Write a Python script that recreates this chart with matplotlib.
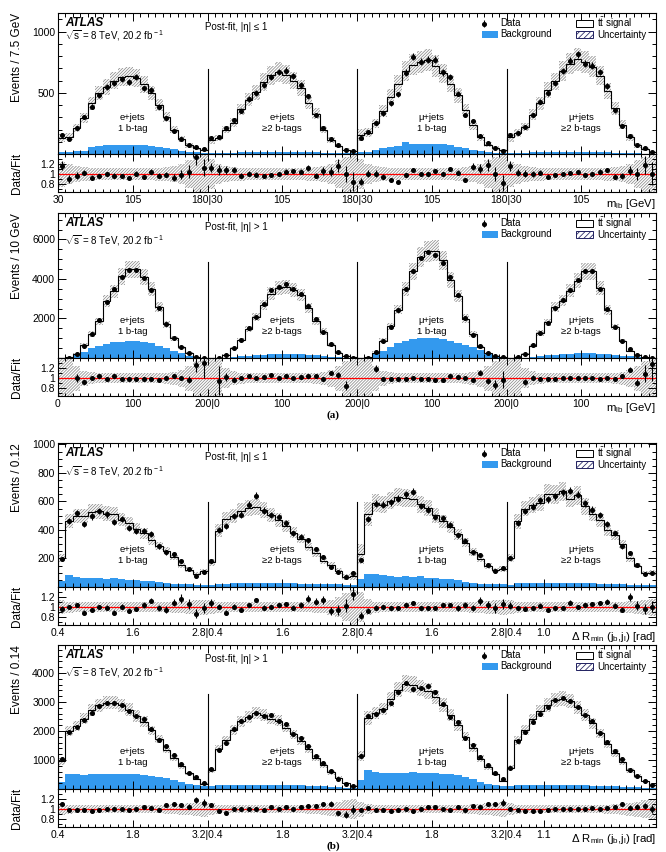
import numpy as np
import matplotlib
matplotlib.use("Agg")
import matplotlib.pyplot as plt
from matplotlib.ticker import FixedLocator, MultipleLocator, NullFormatter
from matplotlib.patches import Rectangle

plt.rcParams['font.family'] = ['Liberation Sans', 'DejaVu Sans']
plt.rcParams['mathtext.fontset'] = 'custom'
plt.rcParams['mathtext.rm'] = 'Liberation Sans'
plt.rcParams['mathtext.it'] = 'Liberation Sans:italic'
plt.rcParams['hatch.linewidth'] = 0.55

channel_labels = ['e+jets\n1 b-tag', 'e+jets\n≥2 b-tags', 'μ+jets\n1 b-tag', 'μ+jets\n≥2 b-tags']

# ---------------- panel (a) top : m_lb, |eta| <= 1 ----------------
fit_a1 = [130, 140, 215, 295, 415, 500, 545, 600, 630, 635, 620, 570, 500, 400, 300, 200, 120, 70, 45, 35,
          115, 130, 200, 255, 365, 445, 505, 590, 645, 670, 650, 600, 540, 420, 330, 200, 115, 65, 35, 25,
          155, 175, 250, 350, 470, 575, 680, 730, 755, 770, 720, 660, 575, 480, 360, 235, 135, 75, 47, 30,
          135, 170, 222, 320, 415, 525, 595, 680, 740, 775, 755, 715, 640, 515, 375, 240, 135, 70, 40, 20]
bkg_a1 = [20, 20, 22, 25, 60, 65, 70, 75, 75, 75, 72, 70, 62, 55, 45, 38, 28, 20, 15, 10,
          8, 10, 10, 12, 14, 18, 20, 20, 18, 18, 18, 17, 16, 15, 14, 12, 10, 8, 6, 5,
          14, 20, 33, 47, 60, 66, 101, 80, 82, 82, 82, 82, 74, 60, 47, 33, 25, 16, 11, 5,
          8, 10, 12, 14, 15, 16, 18, 18, 18, 18, 17, 16, 15, 14, 12, 10, 8, 6, 4, 3]
ratio_a1 = [1.17, 0.90, 0.97, 1.03, 0.93, 0.96, 1.00, 0.97, 0.97, 0.93, 1.01, 0.94, 1.05, 0.97, 0.99, 0.93, 0.99, 1.05, 1.35, 1.13,
            1.13, 1.08, 1.08, 1.08, 0.97, 1.01, 0.99, 0.96, 0.98, 1.00, 1.05, 1.06, 1.05, 1.12, 0.97, 1.06, 1.05, 1.17, 1.00, 0.85,
            0.85, 1.01, 1.01, 0.95, 0.88, 0.85, 0.98, 1.09, 1.00, 1.00, 1.07, 1.01, 1.10, 1.03, 0.88, 1.15, 1.11, 1.18, 1.00, 0.82,
            1.16, 1.03, 1.01, 1.00, 1.03, 0.95, 0.98, 1.00, 1.03, 1.05, 0.98, 1.01, 1.05, 1.08, 0.95, 0.96, 1.07, 1.00, 1.18, 1.01]
unc_a1 = [0.25, 0.2, 0.16, 0.14, 0.13, 0.12, 0.12, 0.12, 0.12, 0.12, 0.12, 0.12, 0.12, 0.13, 0.14, 0.16, 0.2, 0.28, 0.35, 0.4,
          0.3, 0.2, 0.16, 0.14, 0.13, 0.12, 0.12, 0.12, 0.12, 0.12, 0.12, 0.12, 0.12, 0.13, 0.14, 0.16, 0.2, 0.28, 0.35, 0.4,
          0.3, 0.2, 0.16, 0.14, 0.13, 0.12, 0.12, 0.12, 0.12, 0.12, 0.12, 0.12, 0.12, 0.13, 0.14, 0.16, 0.2, 0.28, 0.35, 0.4,
          0.25, 0.2, 0.16, 0.14, 0.13, 0.12, 0.12, 0.12, 0.12, 0.12, 0.12, 0.12, 0.12, 0.13, 0.14, 0.16, 0.2, 0.28, 0.35, 0.4]

# ---------------- panel (a) bottom : m_lb, |eta| > 1 ----------------
fit_a2 = [5, 30, 200, 650, 1220, 1860, 2880, 3370, 4130, 4480, 4480, 4080, 3480, 2590, 1700, 990, 540, 245, 55, 14,
          5, 12, 150, 500, 910, 1450, 2060, 2680, 3250, 3540, 3600, 3440, 3180, 2530, 1880, 1330, 650, 270, 110, 40,
          5, 45, 270, 885, 1600, 2450, 3510, 4380, 5100, 5400, 5430, 4940, 3960, 3130, 1990, 1210, 550, 250, 115, 35,
          5, 70, 215, 630, 1260, 1810, 2560, 2910, 3410, 3910, 4380, 4380, 3530, 2440, 1570, 845, 375, 165, 35, 10]
bkg_a2 = [0, 40, 170, 320, 490, 610, 710, 790, 830, 880, 880, 830, 740, 625, 505, 370, 235, 120, 50, 15,
          0, 5, 20, 50, 80, 110, 140, 165, 185, 195, 200, 195, 180, 160, 130, 100, 65, 35, 15, 5,
          0, 20, 236, 371, 574, 743, 878, 945, 996, 1030, 996, 945, 878, 776, 658, 540, 405, 236, 110, 35,
          0, 5, 25, 60, 100, 140, 170, 195, 215, 230, 236, 230, 215, 190, 160, 120, 80, 45, 20, 8]
ratio_a2 = [np.nan, 0.5, 1.00, 0.93, 1.00, 1.04, 0.99, 1.04, 0.99, 0.99, 0.99, 0.99, 0.99, 0.97, 1.00, 1.04, 1.00, 0.97, 1.27, 1.30,
            np.nan, 0.95, 1.02, 0.97, 1.00, 1.04, 1.00, 1.02, 1.06, 1.01, 1.04, 1.01, 1.02, 1.04, 1.04, 0.99, 1.10, 1.06, 0.85, 0.5,
            np.nan, 0.5, 1.19, 0.99, 0.99, 0.99, 0.99, 1.01, 0.99, 0.99, 0.96, 0.97, 1.04, 1.02, 1.01, 0.96, 1.11, 0.94, 0.87, 0.97,
            np.nan, 0.5, 0.92, 1.01, 0.99, 0.99, 0.99, 1.01, 1.01, 1.01, 1.01, 1.01, 0.99, 1.01, 0.99, 1.04, 1.17, 0.91, 1.09, 1.29]
unc_a2 = [0.5, 0.4, 0.25, 0.15, 0.12, 0.1, 0.1, 0.1, 0.1, 0.1, 0.1, 0.1, 0.1, 0.1, 0.11, 0.13, 0.17, 0.25, 0.35, 0.5,
          0.5, 0.4, 0.2, 0.14, 0.11, 0.1, 0.1, 0.1, 0.1, 0.1, 0.1, 0.1, 0.1, 0.1, 0.11, 0.13, 0.17, 0.25, 0.35, 0.5,
          0.5, 0.4, 0.25, 0.15, 0.12, 0.1, 0.1, 0.1, 0.1, 0.1, 0.1, 0.1, 0.1, 0.1, 0.11, 0.13, 0.17, 0.25, 0.35, 0.5,
          0.5, 0.4, 0.2, 0.14, 0.11, 0.1, 0.1, 0.1, 0.1, 0.1, 0.1, 0.1, 0.1, 0.1, 0.11, 0.13, 0.17, 0.25, 0.35, 0.5]

# ---------------- panel (b) top : dRmin, |eta| <= 1 ----------------
fit_b1 = [203, 462, 498, 500, 527, 532, 514, 510, 472, 446, 410, 376, 330, 290, 256, 210, 155, 122, 92, 110,
          172, 396, 480, 495, 535, 555, 562, 540, 505, 470, 425, 380, 340, 280, 240, 185, 155, 112, 70, 80,
          230, 512, 590, 578, 605, 632, 625, 620, 580, 553, 502, 462, 418, 370, 312, 248, 199, 149, 116, 127,
          200, 460, 550, 575, 590, 655, 650, 670, 620, 642, 565, 512, 468, 400, 365, 300, 200, 150, 95, 100]
bkg_b1 = [42, 82, 70, 65, 61, 63, 58, 61, 56, 51, 47, 44, 40, 35, 30, 23, 21, 19, 16, 14,
          12, 22, 24, 26, 26, 27, 27, 27, 26, 26, 25, 25, 24, 24, 23, 22, 20, 18, 16, 14,
          58, 94, 89, 82, 80, 70, 77, 70, 75, 65, 65, 58, 54, 47, 35, 28, 23, 23, 19, 19,
          15, 25, 27, 28, 28, 28, 28, 28, 27, 27, 26, 25, 24, 23, 21, 19, 17, 15, 13, 12]
ratio_b1 = [0.96, 1.00, 1.04, 0.89, 0.94, 1.00, 0.99, 0.89, 1.01, 0.93, 0.96, 1.04, 1.13, 0.98, 0.95, 1.09, 1.17, 1.06, 0.87, 0.98,
            1.08, 1.01, 0.89, 1.01, 0.95, 1.04, 1.14, 0.99, 1.00, 1.04, 1.06, 0.99, 1.04, 1.17, 1.11, 1.14, 0.92, 0.94, 1.03, 1.27,
            0.83, 0.93, 0.99, 1.00, 0.98, 0.98, 1.04, 1.08, 0.98, 0.98, 0.98, 1.04, 1.04, 0.98, 1.04, 0.98, 1.12, 1.04, 0.98, 1.06,
            1.03, 0.98, 0.97, 0.98, 1.03, 0.94, 0.98, 0.99, 1.09, 1.01, 1.04, 1.06, 1.08, 1.11, 1.03, 0.95, 1.20, 1.03, 0.96, 1.01]
unc_b1 = [0.14, 0.11, 0.1, 0.1, 0.1, 0.1, 0.1, 0.1, 0.1, 0.1, 0.1, 0.1, 0.1, 0.1, 0.1, 0.11, 0.12, 0.13, 0.14, 0.15,
          0.14, 0.11, 0.1, 0.1, 0.1, 0.1, 0.1, 0.1, 0.1, 0.1, 0.1, 0.1, 0.1, 0.1, 0.11, 0.12, 0.15, 0.2, 0.28, 0.35,
          0.3, 0.16, 0.11, 0.1, 0.1, 0.1, 0.1, 0.1, 0.1, 0.1, 0.1, 0.1, 0.1, 0.1, 0.1, 0.11, 0.12, 0.13, 0.14, 0.15,
          0.14, 0.11, 0.1, 0.1, 0.1, 0.1, 0.1, 0.1, 0.1, 0.1, 0.1, 0.1, 0.1, 0.1, 0.1, 0.11, 0.12, 0.13, 0.15, 0.17]

# ---------------- panel (b) bottom : dRmin, |eta| > 1 ----------------
fit_b2 = [955, 2000, 2170, 2420, 2720, 2880, 2980, 2980, 2880, 2740, 2520, 2320, 2020, 1720, 1360, 1070, 790, 535, 340, 170,
          640, 1390, 1700, 2040, 2330, 2490, 2610, 2560, 2420, 2350, 2120, 1890, 1660, 1370, 1080, 820, 570, 390, 210, 120,
          1150, 2450, 2630, 2760, 3090, 3430, 3630, 3600, 3470, 3370, 3170, 2900, 2540, 2190, 1800, 1425, 1046, 745, 515, 290,
          735, 1678, 2030, 2405, 2680, 2900, 3056, 3114, 3030, 2815, 2539, 2260, 1920, 1563, 1241, 931, 643, 437, 276, 140]
bkg_b2 = [241, 529, 506, 494, 506, 506, 517, 517, 517, 506, 506, 483, 460, 414, 368, 299, 241, 184, 126, 92,
          100, 150, 145, 140, 140, 140, 135, 135, 135, 140, 140, 130, 130, 120, 110, 90, 80, 65, 50, 40,
          299, 643, 586, 552, 552, 563, 563, 586, 552, 552, 552, 529, 506, 471, 414, 333, 241, 184, 126, 92,
          90, 140, 140, 135, 135, 140, 140, 140, 135, 130, 125, 120, 115, 105, 95, 85, 70, 60, 45, 35]
ratio_b2 = [1.10, 0.99, 0.99, 0.99, 0.96, 0.99, 1.00, 1.00, 1.01, 0.98, 1.00, 1.04, 1.02, 0.98, 1.08, 1.10, 1.08, 1.05, 1.18, 1.12,
            1.08, 0.96, 0.93, 1.01, 1.01, 1.00, 1.01, 0.98, 1.05, 1.00, 1.05, 1.00, 1.05, 1.07, 1.06, 1.10, 1.11, 0.92, 0.89, 0.99,
            0.99, 1.03, 0.98, 0.99, 0.96, 0.98, 1.01, 0.96, 1.00, 1.05, 1.05, 1.01, 0.98, 1.05, 0.98, 1.06, 1.05, 1.10, 1.10, 1.13,
            1.00, 0.98, 0.96, 0.96, 0.96, 0.98, 1.00, 1.01, 1.00, 1.01, 1.00, 1.03, 1.01, 1.03, 1.05, 1.10, 1.03, 1.05, 1.06, 1.00]
unc_b2 = [0.12, 0.09, 0.08, 0.08, 0.08, 0.08, 0.08, 0.08, 0.08, 0.08, 0.08, 0.08, 0.08, 0.08, 0.09, 0.1, 0.11, 0.12, 0.13, 0.15,
          0.12, 0.09, 0.08, 0.08, 0.08, 0.08, 0.08, 0.08, 0.08, 0.08, 0.08, 0.08, 0.08, 0.09, 0.1, 0.11, 0.13, 0.15, 0.18, 0.2,
          0.15, 0.1, 0.08, 0.08, 0.08, 0.08, 0.08, 0.08, 0.08, 0.08, 0.08, 0.08, 0.08, 0.08, 0.09, 0.1, 0.11, 0.12, 0.13, 0.15,
          0.12, 0.09, 0.08, 0.08, 0.08, 0.08, 0.08, 0.08, 0.08, 0.08, 0.08, 0.08, 0.08, 0.09, 0.1, 0.11, 0.13, 0.15, 0.18, 0.2]

ticks_a1 = ['30', '105', '180|30', '105', '180|30', '105', '180|30', '105']
ticks_a2 = ['0', '100', '200|0', '100', '200|0', '100', '200|0', '100']
ticks_b1 = ['0.4', '1.6', '2.8|0.4', '1.6', '2.8|0.4', '1.6', '2.8|0.4', '1.0']
ticks_b2 = ['0.4', '1.8', '3.2|0.4', '1.8', '3.2|0.4', '1.8', '3.2|0.4', '1.1']
tickpos_a = [0, 10, 20, 30, 40, 50, 60, 70]
tickpos_b = [0, 10, 20, 30, 40, 50, 60, 65]

BLUE = '#3399ee'
HATCH_C = '#8c8c8c'
HATCH = '///////////'

W, H = 666, 852
fig = plt.figure(figsize=(W / 100, H / 100), dpi=100)
X0, X1 = 58, 656


def rect(y0, y1):
    return [X0 / W, 1 - y1 / H, (X1 - X0) / W, (y1 - y0) / H]


panels = [
    dict(fit=fit_a1, bkg=bkg_a1, ratio=ratio_a1, unc=unc_a1, ticks=ticks_a1, tpos=tickpos_a,
         ylim=1153, major=500, minor=100, ylabel='Events / 7.5 GeV', eta='Post-fit, |η| ≤ 1',
         xlabel=r'm$_{\rm lb}$ [GeV]', box=(13, 154, 192), sep=0.60, sq=23),
    dict(fit=fit_a2, bkg=bkg_a2, ratio=ratio_a2, unc=unc_a2, ticks=ticks_a2, tpos=tickpos_a,
         ylim=7340, major=2000, minor=500, ylabel='Events / 10 GeV', eta='Post-fit, |η| > 1',
         xlabel=r'm$_{\rm lb}$ [GeV]', box=(213, 358, 396), sep=0.66, sq=28),
    dict(fit=fit_b1, bkg=bkg_b1, ratio=ratio_b1, unc=unc_b1, ticks=ticks_b1, tpos=tickpos_b,
         ylim=1010, major=200, minor=50, ylabel='Events / 0.12', eta='Post-fit, |η| ≤ 1',
         xlabel=r'$\Delta$ R$_{\rm min}$ (j$_{\rm b}$,j$_{\rm l}$) [rad]', box=(443, 587, 625), sep=0.59, sq=29),
    dict(fit=fit_b2, bkg=bkg_b2, ratio=ratio_b2, unc=unc_b2, ticks=ticks_b2, tpos=tickpos_b,
         ylim=4965, major=1000, minor=200, ylabel='Events / 0.14', eta='Post-fit, |η| > 1',
         xlabel=r'$\Delta$ R$_{\rm min}$ (j$_{\rm b}$,j$_{\rm l}$) [rad]', box=(645, 789, 827), sep=0.66, sq=28),
]

edges = np.arange(81)
centers = edges[:-1] + 0.5
FS = 7.0

for p in panels:
    top, mid, bot = p['box']
    hpx = mid - top
    ax = fig.add_axes(rect(top, mid))
    rx = fig.add_axes(rect(mid, bot))
    fit = np.array(p['fit'], float)
    bkg = np.array(p['bkg'], float)
    ratio = np.array(p['ratio'], float)
    unc = np.array(p['unc'], float)
    data = fit * ratio
    derr = np.sqrt(np.where(np.isfinite(data), data, 0))

    # main panel
    ax.stairs(bkg, edges, fill=True, color=BLUE, lw=0, zorder=1)
    ax.stairs(fit, edges, color='black', lw=0.8, zorder=3)
    ax.stairs(fit * (1 + unc), edges, baseline=np.clip(fit * (1 - unc), 0, None), fill=True,
              facecolor='none', edgecolor=HATCH_C, hatch=HATCH, lw=0, zorder=2)
    ok = np.isfinite(data) & (data > 0)
    ax.errorbar(centers[ok], data[ok], yerr=derr[ok], fmt='o', color='black', ms=2.6,
                elinewidth=0.8, capsize=0, zorder=5)
    for xs in (20, 40, 60):
        ax.axvline(xs, ymin=0, ymax=p['sep'], color='black', lw=0.8, zorder=4)
    ax.set_xlim(0, 80)
    ax.set_ylim(0, p['ylim'])
    ax.yaxis.set_minor_locator(MultipleLocator(p['minor']))
    ax.xaxis.set_major_locator(FixedLocator(p['tpos']))
    ax.xaxis.set_minor_locator(MultipleLocator(1))
    ax.xaxis.set_major_formatter(NullFormatter())
    yt = [t for t in np.arange(p['major'], p['ylim'], p['major'])]
    ax.set_yticks(yt)
    ax.set_yticklabels([str(int(t)) for t in yt], fontsize=7.5)

    # channel labels
    for i, lab in enumerate(channel_labels):
        ax.text(10 + 20 * i, p['ylim'] * 0.22, lab, ha='center', va='center', fontsize=6.8,
                linespacing=1.25, zorder=6)

    def yf(dy):
        return 1 - dy / hpx

    def fx(x):
        return (x - X0) / (X1 - X0)

    ax.text(fx(65), yf(9.5), 'ATLAS', transform=ax.transAxes, fontsize=8.5,
            fontweight='bold', fontstyle='italic', va='center', ha='left')
    ax.text(fx(65), yf(p['sq']), r'$\sqrt{\rm s}$ = 8 TeV, 20.2 fb$^{\rm -1}$',
            transform=ax.transAxes, fontsize=FS, va='center', ha='left')
    ax.text(fx(205), yf(14), p['eta'], transform=ax.transAxes, fontsize=FS,
            va='center', ha='left')
    # legend
    ax.errorbar([fx(484)], [yf(10.5)], yerr=[3.5 / hpx], fmt='o', color='black', ms=2.6, elinewidth=0.8,
                transform=ax.transAxes, clip_on=False, zorder=7)
    ax.text(fx(500), yf(10.5), 'Data', transform=ax.transAxes, fontsize=FS, va='center')
    bh = 7 / hpx
    ax.add_patch(Rectangle((fx(482), yf(21) - bh / 2), fx(498) - fx(482), bh, transform=ax.transAxes,
                           facecolor=BLUE, edgecolor='none', zorder=7))
    ax.text(fx(500), yf(21), 'Background', transform=ax.transAxes, fontsize=FS, va='center')
    ax.add_patch(Rectangle((fx(576), yf(10.5) - bh / 2), fx(593) - fx(576), bh, transform=ax.transAxes,
                           facecolor='white', edgecolor='black', lw=0.7, zorder=7))
    ax.text(fx(597), yf(10), r't$\bar{\rm t}$ signal', transform=ax.transAxes, fontsize=FS,
            va='center')
    ax.add_patch(Rectangle((fx(576), yf(21) - bh / 2), fx(593) - fx(576), bh, transform=ax.transAxes,
                           facecolor='white', edgecolor='#202060', hatch='//////', lw=0.7, zorder=7))
    ax.text(fx(597), yf(21.5), 'Uncertainty', transform=ax.transAxes, fontsize=FS, va='center')

    # ratio panel
    rx.stairs(1 + unc, edges, baseline=1 - unc, fill=True, facecolor='none', edgecolor=HATCH_C,
              hatch=HATCH, lw=0, zorder=1)
    rx.axhline(1, color='red', lw=0.9, zorder=2)
    rerr = derr / fit
    rok = np.isfinite(ratio)
    rx.errorbar(centers[rok], ratio[rok], yerr=rerr[rok], fmt='o', color='black', ms=2.6,
                elinewidth=0.8, capsize=0, zorder=5)
    rx.set_xlim(0, 80)
    rx.set_ylim(0.64, 1.4)
    rx.set_yticks([0.8, 1.0, 1.2])
    rx.set_yticklabels(['0.8', '1', '1.2'], fontsize=7.5)
    rx.yaxis.set_minor_locator(MultipleLocator(0.1))
    rx.set_xticks(p['tpos'])
    rx.set_xticklabels(p['ticks'], fontsize=7.5)
    rx.xaxis.set_minor_locator(MultipleLocator(1))
    rx.text(1.0, -0.12, p['xlabel'], transform=rx.transAxes, ha='right', va='top', fontsize=8.2)

    for a in (ax, rx):
        a.tick_params(which='both', direction='in', top=True, right=True, width=0.7, pad=2)
        a.tick_params(which='major', length=6)
        a.tick_params(which='minor', length=3)
        for s in a.spines.values():
            s.set_linewidth(0.8)
    rx.tick_params(which='major', axis='x', length=5)
    rx.tick_params(which='minor', axis='x', length=2.5)

    fig.text(17 / W, 1 - top / H, p['ylabel'], rotation=90, ha='center', va='top', fontsize=8.5)
    fig.text(17 / W, 1 - ((mid + bot) / 2) / H, 'Data/Fit', rotation=90, ha='center', va='center',
             fontsize=8.5)

fig.text(333 / W, 1 - 415 / H, '(a)', ha='center', va='center', fontsize=8,
         fontweight='bold', family=['Liberation Serif', 'DejaVu Serif'])
fig.text(333 / W, 1 - 846 / H, '(b)', ha='center', va='center', fontsize=8,
         fontweight='bold', family=['Liberation Serif', 'DejaVu Serif'])

fig.savefig('out.png', dpi=100)
